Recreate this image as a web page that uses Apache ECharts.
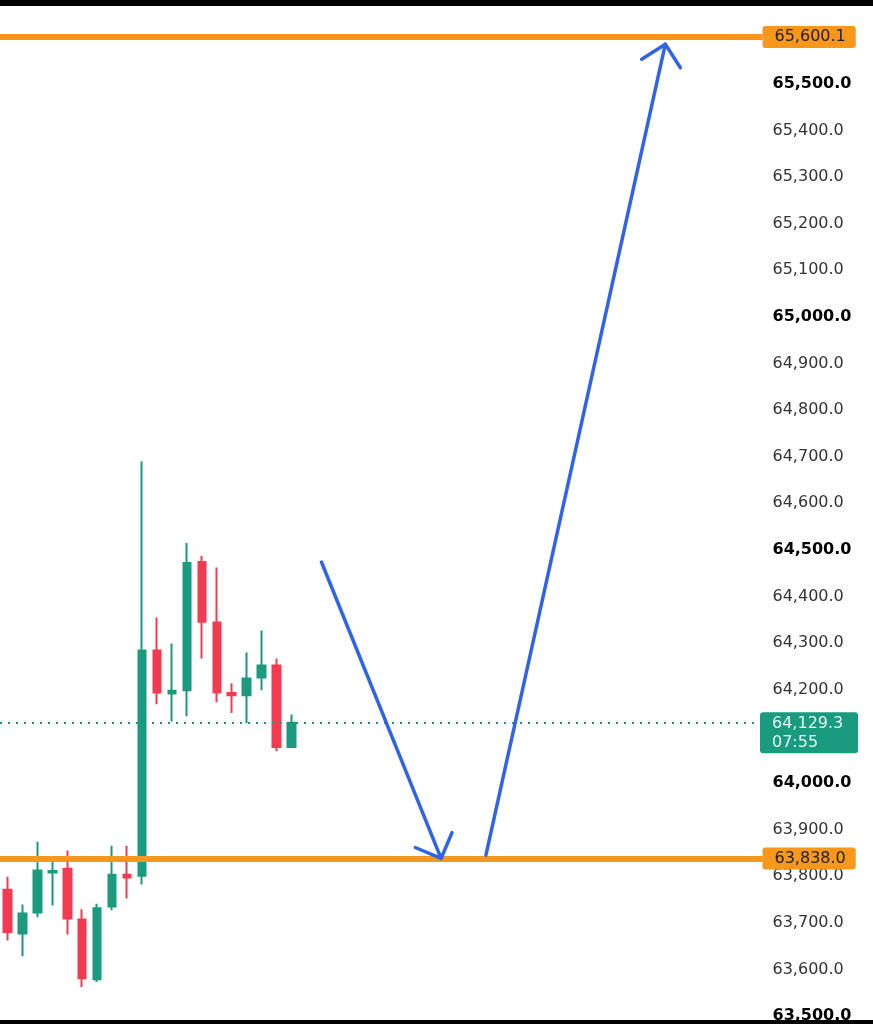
<!DOCTYPE html>
<html>
<head>
<meta charset="utf-8">
<title>BTC 15m</title>
<script src="https://cdn.jsdelivr.net/npm/echarts@6.0.0/dist/echarts.min.js"></script>
<style>
  html, body { margin: 0; padding: 0; background: #fff; }
  #main { width: 873px; height: 1024px; }
</style>
</head>
<body>
<div id="main"></div>
<script>
// Candles (left to right)
const opens  = [63771, 63677, 63722, 63808, 63816, 63707, 63579, 63735, 63803, 63801, 64284, 64192, 64199, 64474, 64344, 64193, 64188, 64226, 64252, 64077];
const closes = [63680, 63720, 63812, 63811, 63709, 63581, 63731, 63803, 63797, 64284, 64194, 64198, 64472, 64346, 64194, 64188, 64224, 64252, 64077, 64129.3];
const lows   = [63662, 63628, 63712, 63737, 63675, 63562, 63573, 63727, 63752, 63782, 64169, 64132, 64143, 64267, 64173, 64150, 64128, 64199, 64068, 64075];
const highs  = [63799, 63739, 63874, 63833, 63855, 63729, 63741, 63865, 63865, 64690, 64355, 64299, 64515, 64487, 64462, 64214, 64280, 64327, 64267, 64147];

// Levels
const targetLevel = 65600.1;
const supportLevel = 63838.0;
const lastPrice = 64129.3;
const countdown = '07:55';

// Hand drawn arrows, [slot index, price]
const arrowDown = [[21, 64474], [29, 63838]];
const arrowUp = [[32, 63845], [44, 65585]];

// Slots on the time axis (candles + empty space to the right)
const slotCount = 51;
const categories = Array.from({ length: slotCount }, (_, i) => String(i + 1));

const FONT = 'DejaVu Sans';
const ORANGE = '#f7971c';
const GREEN = '#1a9a7f';
const RED = '#f23a50';
const BLUE = '#2f63ea';

function fmt(v) {
    const parts = v.toFixed(1).split('.');
    return parts[0].replace(/\B(?=(\d{3})+(?!\d))/g, ',') + '.' + parts[1];
}

const candleData = opens.map((o, i) => [o, closes[i], lows[i], highs[i]]);

const chartDom = document.getElementById('main');
const myChart = echarts.init(chartDom);

const option = {
    backgroundColor: '#ffffff',
    animation: false,
    // 0.468 px per dollar, 65,500 sits at y = 83
    grid: { left: -2.5, right: 110.5, top: 32.5, bottom: 3 },
    xAxis: {
        type: 'category',
        data: categories,
        boundaryGap: true,
        show: false
    },
    yAxis: {
        type: 'value',
        position: 'right',
        min: 63500,
        max: 65610,
        interval: 100,
        splitLine: { show: false },
        axisLine: { show: false },
        axisTick: { show: false },
        axisLabel: {
            margin: 10,
            color: '#333',
            fontSize: 16,
            fontFamily: FONT,
            showMaxLabel: false,
            formatter: function (v) {
                return v % 500 === 0 ? '{b|' + fmt(v) + '}' : fmt(v);
            },
            rich: {
                b: { fontWeight: 'bold', color: '#000', fontSize: 16, fontFamily: FONT }
            }
        }
    },
    series: [
        {
            type: 'candlestick',
            data: candleData,
            barWidth: 8,
            itemStyle: {
                color: GREEN,
                color0: RED,
                borderColor: GREEN,
                borderColor0: RED,
                borderWidth: 2
            },
            markLine: {
                silent: true,
                symbol: ['none', 'none'],
                data: [
                    {
                        yAxis: targetLevel,
                        lineStyle: { color: ORANGE, width: 6, type: 'solid' },
                        label: {
                            show: true, position: 'end', distance: 0,
                            formatter: fmt(targetLevel),
                            backgroundColor: ORANGE, color: '#222',
                            fontSize: 16, fontFamily: FONT,
                            padding: [3, 10, 3, 12], borderRadius: 3
                        }
                    },
                    {
                        yAxis: supportLevel,
                        lineStyle: { color: ORANGE, width: 6, type: 'solid' },
                        label: {
                            show: true, position: 'end', distance: 0,
                            formatter: fmt(supportLevel),
                            backgroundColor: ORANGE, color: '#222',
                            fontSize: 16, fontFamily: FONT,
                            padding: [3, 10, 3, 12], borderRadius: 3
                        }
                    },
                    {
                        yAxis: lastPrice,
                        lineStyle: { color: GREEN, width: 2, type: [2, 6] },
                        label: { show: false }
                    }
                ]
            }
        }
    ]
};

myChart.setOption(option);

// Arrows and the last price tag, placed through the chart's own scales
function arrowElements(pts) {
    const a = myChart.convertToPixel({ gridIndex: 0 }, pts[0]);
    const b = myChart.convertToPixel({ gridIndex: 0 }, pts[1]);
    const ang = Math.atan2(a[1] - b[1], a[0] - b[0]);
    const len = 28, spread = Math.PI / 4;
    const w1 = [b[0] + len * Math.cos(ang + spread), b[1] + len * Math.sin(ang + spread)];
    const w2 = [b[0] + len * Math.cos(ang - spread), b[1] + len * Math.sin(ang - spread)];
    const style = { stroke: BLUE, lineWidth: 3.5, lineCap: 'round', lineJoin: 'round', fill: null };
    return [
        { type: 'polyline', z: 20, shape: { points: [a, b] }, style: style },
        { type: 'polyline', z: 20, shape: { points: [w1, b, w2] }, style: style }
    ];
}

const py = myChart.convertToPixel({ yAxisIndex: 0 }, lastPrice);

myChart.setOption({
    graphic: {
        elements: [
            ...arrowElements(arrowDown),
            ...arrowElements(arrowUp),
            {
                type: 'rect', z: 30,
                shape: { x: 760, y: py - 10.5, width: 98, height: 41, r: 3 },
                style: { fill: GREEN }
            },
            {
                type: 'text', z: 31,
                style: {
                    x: 772, y: py - 8, text: fmt(lastPrice) + '\n' + countdown,
                    fill: '#e4f5f0', fontSize: 16, fontFamily: FONT, lineHeight: 19
                }
            },
            // phone screenshot edges
            { type: 'rect', z: 40, shape: { x: 0, y: 0, width: 873, height: 6 }, style: { fill: '#000' } },
            { type: 'rect', z: 40, shape: { x: 0, y: 1020, width: 873, height: 4 }, style: { fill: '#000' } }
        ]
    }
});
</script>
</body>
</html>
